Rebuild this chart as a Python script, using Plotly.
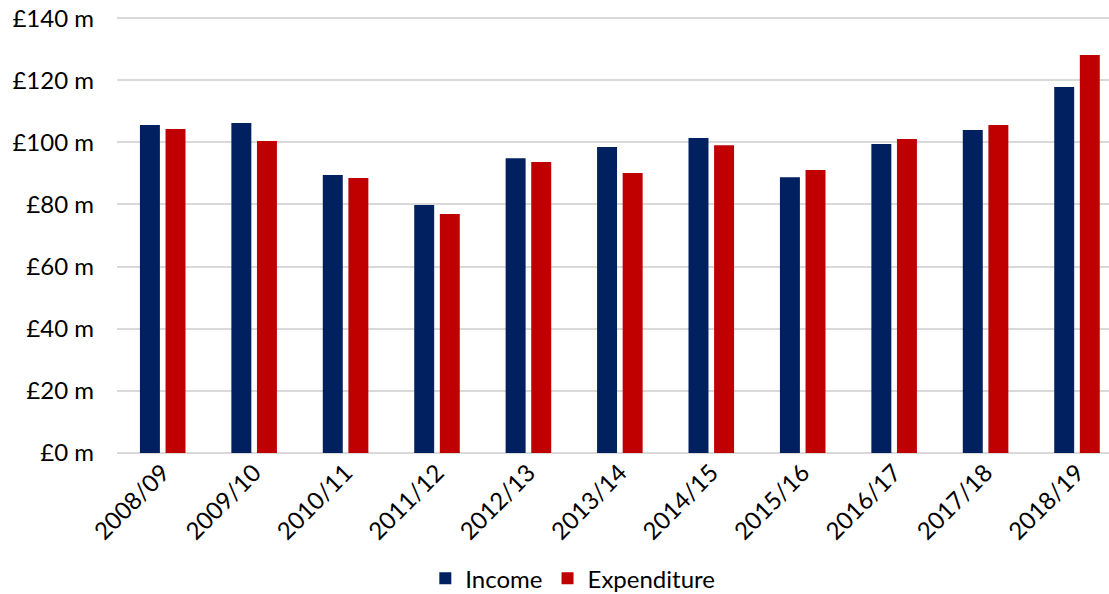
import plotly.graph_objects as go

years = ["2008/09", "2009/10", "2010/11", "2011/12", "2012/13", "2013/14",
         "2014/15", "2015/16", "2016/17", "2017/18", "2018/19"]
income = [105.6, 106.2, 89.5, 79.8, 94.9, 98.5, 101.4, 88.8, 99.5, 104.0, 117.8]
expenditure = [104.3, 100.4, 88.5, 76.9, 93.7, 90.1, 99.1, 91.1, 101.1, 105.6, 128.1]
y_ticks = [0, 20, 40, 60, 80, 100, 120, 140]
y_labels = ["£%d m" % v for v in y_ticks]

FONT = "Lato, 'Open Sans', sans-serif"

fig = go.Figure()
fig.add_trace(go.Bar(x=years, y=income, name="Income",
                     marker=dict(color="#002060", line=dict(width=0))))
fig.add_trace(go.Bar(x=years, y=expenditure, name="Expenditure",
                     marker=dict(color="#C00000", line=dict(width=0))))

fig.update_layout(
    width=1109, height=594,
    margin=dict(l=117, r=0, t=15, b=141, autoexpand=False),
    paper_bgcolor="white", plot_bgcolor="white",
    barmode="group", bargap=0.44, bargroupgap=0.22,
    font=dict(family=FONT, size=24, color="#000000"),
    legend=dict(orientation="h", xref="paper", x=0.4595, xanchor="center",
                yref="container", y=0.0636, yanchor="top",
                font=dict(size=24), itemwidth=30, traceorder="normal"),
    xaxis=dict(range=[-0.5, 10.35], tickangle=-45, showgrid=False,
               showline=False, ticks="", tickfont=dict(size=24),
               automargin=False),
    yaxis=dict(range=[0, 141], tickvals=y_ticks, ticktext=y_labels,
               showgrid=True, gridcolor="#d9d9d9", gridwidth=1.5,
               zeroline=True, zerolinecolor="#d9d9d9", zerolinewidth=1.5,
               ticks="", ticklabelstandoff=22, tickfont=dict(size=24),
               ticklabeloverflow="allow", automargin=False),
)

# drop the default 8px page margin so the figure fills the window
fig.write_html("out.html",
               config={"displayModeBar": False},
               post_script="document.body.style.margin='0';"
                           "document.body.style.overflow='hidden';")
